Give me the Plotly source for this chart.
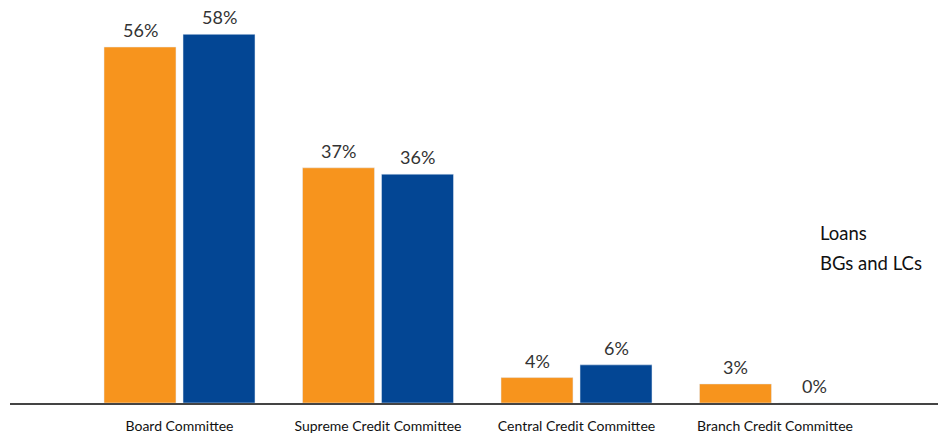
import plotly.graph_objects as go

categories = ["Board Committee", "Supreme Credit Committee", "Central Credit Committee", "Branch Credit Committee"]
loans = [56, 37, 4, 3]
bgs_lcs = [58, 36, 6, 0]
series_names = ["Loans", "BGs and LCs"]
colors = ["#F7941D", "#034694"]

W, H = 938, 434
l, r, t, b = 10, 0, 0, 27
pw, ph = W - l - r, H - t - b
unit = 198.5
offsets = [-39.5, 39.5]

fig = go.Figure()
for name, vals, col, off in zip(series_names, [loans, bgs_lcs], colors, offsets):
    fig.add_trace(go.Bar(
        x=categories, y=vals, name=name, marker_color=col, showlegend=False,
    ))
    for c, v in zip(categories, vals):
        fig.add_annotation(x=c, y=v, xref="x", yref="y", text=f"{v}%", showarrow=False,
                           xanchor="center", yanchor="bottom", xshift=off, yshift=4,
                           font=dict(size=18, color="#333333", family="Lato"))

# text-only legend
for i, name in enumerate(series_names):
    px, py = 818, 235 + 31 * i
    fig.add_annotation(x=(px - l) / pw, y=1 - (py - t) / ph, xref="paper", yref="paper",
                       text=name, showarrow=False, xanchor="left", yanchor="middle",
                       font=dict(size=18.5, color="#111111", family="Lato"))

fig.update_layout(
    width=W, height=H,
    margin=dict(l=l, r=r, t=t, b=b),
    plot_bgcolor="white", paper_bgcolor="white",
    barmode="group", bargap=0.204, bargroupgap=0.089,
    xaxis=dict(range=[-(179.5 - l) / unit, (W - r - 179.5) / unit], showline=True,
               linecolor="#444444", linewidth=1.5, ticks="", showgrid=False,
               ticklabelstandoff=9,
               tickfont=dict(size=14, color="#111111", family="Lato")),
    yaxis=dict(range=[0, ph / 6.42], visible=False, showgrid=False),
)

fig.write_html("out.html")
